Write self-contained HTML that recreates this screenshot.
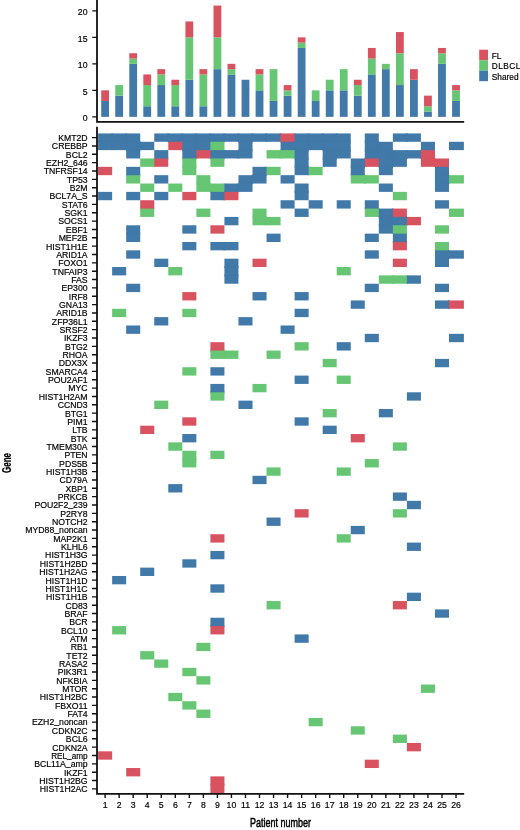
<!DOCTYPE html>
<html lang="en"><head><meta charset="utf-8"><title>Mutation landscape by patient</title>
<style>html,body{margin:0;padding:0;background:#fff}body{width:520px;height:830px;overflow:hidden}svg{display:block}text{font-family:"Liberation Sans",sans-serif;fill:#000;stroke:#000;stroke-width:0.18px}</style></head><body>
<svg width="520" height="830" viewBox="0 0 520 830">
<rect width="520" height="830" fill="#fff"/>
<g id="bars">
<rect x="101.22" y="100.95" width="7.80" height="15.90" fill="#4179a9"/>
<rect x="101.22" y="90.35" width="7.80" height="10.60" fill="#d95260"/>
<rect x="115.25" y="95.65" width="7.80" height="21.20" fill="#4179a9"/>
<rect x="115.25" y="85.05" width="7.80" height="10.60" fill="#67c673"/>
<rect x="129.29" y="63.85" width="7.80" height="53.00" fill="#4179a9"/>
<rect x="129.29" y="58.55" width="7.80" height="5.30" fill="#67c673"/>
<rect x="129.29" y="53.25" width="7.80" height="5.30" fill="#d95260"/>
<rect x="143.33" y="106.25" width="7.80" height="10.60" fill="#4179a9"/>
<rect x="143.33" y="85.05" width="7.80" height="21.20" fill="#67c673"/>
<rect x="143.33" y="74.45" width="7.80" height="10.60" fill="#d95260"/>
<rect x="157.36" y="85.05" width="7.80" height="31.80" fill="#4179a9"/>
<rect x="157.36" y="74.45" width="7.80" height="10.60" fill="#67c673"/>
<rect x="157.36" y="69.15" width="7.80" height="5.30" fill="#d95260"/>
<rect x="171.40" y="106.25" width="7.80" height="10.60" fill="#4179a9"/>
<rect x="171.40" y="85.05" width="7.80" height="21.20" fill="#67c673"/>
<rect x="171.40" y="79.75" width="7.80" height="5.30" fill="#d95260"/>
<rect x="185.43" y="79.75" width="7.80" height="37.10" fill="#4179a9"/>
<rect x="185.43" y="37.35" width="7.80" height="42.40" fill="#67c673"/>
<rect x="185.43" y="21.45" width="7.80" height="15.90" fill="#d95260"/>
<rect x="199.47" y="106.25" width="7.80" height="10.60" fill="#4179a9"/>
<rect x="199.47" y="74.45" width="7.80" height="31.80" fill="#67c673"/>
<rect x="199.47" y="69.15" width="7.80" height="5.30" fill="#d95260"/>
<rect x="213.51" y="69.15" width="7.80" height="47.70" fill="#4179a9"/>
<rect x="213.51" y="37.35" width="7.80" height="31.80" fill="#67c673"/>
<rect x="213.51" y="5.55" width="7.80" height="31.80" fill="#d95260"/>
<rect x="227.54" y="74.45" width="7.80" height="42.40" fill="#4179a9"/>
<rect x="227.54" y="69.15" width="7.80" height="5.30" fill="#67c673"/>
<rect x="227.54" y="63.85" width="7.80" height="5.30" fill="#d95260"/>
<rect x="241.58" y="79.75" width="7.80" height="37.10" fill="#4179a9"/>
<rect x="255.61" y="90.35" width="7.80" height="26.50" fill="#4179a9"/>
<rect x="255.61" y="74.45" width="7.80" height="15.90" fill="#67c673"/>
<rect x="255.61" y="69.15" width="7.80" height="5.30" fill="#d95260"/>
<rect x="269.65" y="100.95" width="7.80" height="15.90" fill="#4179a9"/>
<rect x="269.65" y="69.15" width="7.80" height="31.80" fill="#67c673"/>
<rect x="283.69" y="95.65" width="7.80" height="21.20" fill="#4179a9"/>
<rect x="283.69" y="90.35" width="7.80" height="5.30" fill="#67c673"/>
<rect x="283.69" y="85.05" width="7.80" height="5.30" fill="#d95260"/>
<rect x="297.72" y="47.95" width="7.80" height="68.90" fill="#4179a9"/>
<rect x="297.72" y="42.65" width="7.80" height="5.30" fill="#67c673"/>
<rect x="297.72" y="37.35" width="7.80" height="5.30" fill="#d95260"/>
<rect x="311.76" y="100.95" width="7.80" height="15.90" fill="#4179a9"/>
<rect x="311.76" y="90.35" width="7.80" height="10.60" fill="#67c673"/>
<rect x="325.79" y="90.35" width="7.80" height="26.50" fill="#4179a9"/>
<rect x="325.79" y="79.75" width="7.80" height="10.60" fill="#67c673"/>
<rect x="339.83" y="90.35" width="7.80" height="26.50" fill="#4179a9"/>
<rect x="339.83" y="69.15" width="7.80" height="21.20" fill="#67c673"/>
<rect x="353.87" y="95.65" width="7.80" height="21.20" fill="#4179a9"/>
<rect x="353.87" y="85.05" width="7.80" height="10.60" fill="#67c673"/>
<rect x="353.87" y="79.75" width="7.80" height="5.30" fill="#d95260"/>
<rect x="367.90" y="74.45" width="7.80" height="42.40" fill="#4179a9"/>
<rect x="367.90" y="58.55" width="7.80" height="15.90" fill="#67c673"/>
<rect x="367.90" y="47.95" width="7.80" height="10.60" fill="#d95260"/>
<rect x="381.94" y="69.15" width="7.80" height="47.70" fill="#4179a9"/>
<rect x="381.94" y="63.85" width="7.80" height="5.30" fill="#67c673"/>
<rect x="395.97" y="85.05" width="7.80" height="31.80" fill="#4179a9"/>
<rect x="395.97" y="53.25" width="7.80" height="31.80" fill="#67c673"/>
<rect x="395.97" y="32.05" width="7.80" height="21.20" fill="#d95260"/>
<rect x="410.01" y="79.75" width="7.80" height="37.10" fill="#4179a9"/>
<rect x="410.01" y="69.15" width="7.80" height="10.60" fill="#d95260"/>
<rect x="424.05" y="111.55" width="7.80" height="5.30" fill="#4179a9"/>
<rect x="424.05" y="106.25" width="7.80" height="5.30" fill="#67c673"/>
<rect x="424.05" y="95.65" width="7.80" height="10.60" fill="#d95260"/>
<rect x="438.08" y="63.85" width="7.80" height="53.00" fill="#4179a9"/>
<rect x="438.08" y="53.25" width="7.80" height="10.60" fill="#67c673"/>
<rect x="438.08" y="47.95" width="7.80" height="5.30" fill="#d95260"/>
<rect x="452.12" y="100.95" width="7.80" height="15.90" fill="#4179a9"/>
<rect x="452.12" y="90.35" width="7.80" height="10.60" fill="#67c673"/>
<rect x="452.12" y="85.05" width="7.80" height="5.30" fill="#d95260"/>
</g>
<g id="cells">
<rect x="98.10" y="133.43" width="14.04" height="8.35" fill="#4179a9"/>
<rect x="111.14" y="133.43" width="2" height="8.35" fill="#4179a9"/>
<rect x="98.10" y="140.78" width="14.04" height="2" fill="#4179a9"/>
<rect x="112.14" y="133.43" width="14.04" height="8.35" fill="#4179a9"/>
<rect x="125.17" y="133.43" width="2" height="8.35" fill="#4179a9"/>
<rect x="112.14" y="140.78" width="14.04" height="2" fill="#4179a9"/>
<rect x="126.17" y="133.43" width="14.04" height="8.35" fill="#4179a9"/>
<rect x="126.17" y="140.78" width="14.04" height="2" fill="#4179a9"/>
<rect x="154.24" y="133.43" width="14.04" height="8.35" fill="#4179a9"/>
<rect x="167.28" y="133.43" width="2" height="8.35" fill="#4179a9"/>
<rect x="168.28" y="133.43" width="14.04" height="8.35" fill="#4179a9"/>
<rect x="181.32" y="133.43" width="2" height="8.35" fill="#4179a9"/>
<rect x="168.28" y="140.78" width="14.04" height="2" fill="#4179a9"/>
<rect x="182.32" y="133.43" width="14.04" height="8.35" fill="#4179a9"/>
<rect x="195.35" y="133.43" width="2" height="8.35" fill="#4179a9"/>
<rect x="182.32" y="140.78" width="14.04" height="2" fill="#4179a9"/>
<rect x="196.35" y="133.43" width="14.04" height="8.35" fill="#4179a9"/>
<rect x="209.39" y="133.43" width="2" height="8.35" fill="#4179a9"/>
<rect x="196.35" y="140.78" width="14.04" height="2" fill="#4179a9"/>
<rect x="210.39" y="133.43" width="14.04" height="8.35" fill="#4179a9"/>
<rect x="223.42" y="133.43" width="2" height="8.35" fill="#4179a9"/>
<rect x="210.39" y="140.78" width="14.04" height="2" fill="#4179a9"/>
<rect x="224.42" y="133.43" width="14.04" height="8.35" fill="#4179a9"/>
<rect x="237.46" y="133.43" width="2" height="8.35" fill="#4179a9"/>
<rect x="238.46" y="133.43" width="14.04" height="8.35" fill="#4179a9"/>
<rect x="251.50" y="133.43" width="2" height="8.35" fill="#4179a9"/>
<rect x="238.46" y="140.78" width="14.04" height="2" fill="#4179a9"/>
<rect x="252.50" y="133.43" width="14.04" height="8.35" fill="#4179a9"/>
<rect x="265.53" y="133.43" width="2" height="8.35" fill="#4179a9"/>
<rect x="266.53" y="133.43" width="14.04" height="8.35" fill="#4179a9"/>
<rect x="279.57" y="133.43" width="2" height="8.35" fill="#4179a9"/>
<rect x="280.57" y="133.43" width="14.04" height="8.35" fill="#d95260"/>
<rect x="293.60" y="133.43" width="2" height="8.35" fill="#d95260"/>
<rect x="280.57" y="140.78" width="14.04" height="2" fill="#d95260"/>
<rect x="294.60" y="133.43" width="14.04" height="8.35" fill="#4179a9"/>
<rect x="307.64" y="133.43" width="2" height="8.35" fill="#4179a9"/>
<rect x="294.60" y="140.78" width="14.04" height="2" fill="#4179a9"/>
<rect x="308.64" y="133.43" width="14.04" height="8.35" fill="#4179a9"/>
<rect x="321.68" y="133.43" width="2" height="8.35" fill="#4179a9"/>
<rect x="308.64" y="140.78" width="14.04" height="2" fill="#4179a9"/>
<rect x="322.68" y="133.43" width="14.04" height="8.35" fill="#4179a9"/>
<rect x="335.71" y="133.43" width="2" height="8.35" fill="#4179a9"/>
<rect x="322.68" y="140.78" width="14.04" height="2" fill="#4179a9"/>
<rect x="336.71" y="133.43" width="14.04" height="8.35" fill="#4179a9"/>
<rect x="336.71" y="140.78" width="14.04" height="2" fill="#4179a9"/>
<rect x="364.78" y="133.43" width="14.04" height="8.35" fill="#4179a9"/>
<rect x="364.78" y="140.78" width="14.04" height="2" fill="#4179a9"/>
<rect x="392.86" y="133.43" width="14.04" height="8.35" fill="#4179a9"/>
<rect x="405.89" y="133.43" width="2" height="8.35" fill="#4179a9"/>
<rect x="406.89" y="133.43" width="14.04" height="8.35" fill="#4179a9"/>
<rect x="98.10" y="141.78" width="14.04" height="8.35" fill="#4179a9"/>
<rect x="111.14" y="141.78" width="2" height="8.35" fill="#4179a9"/>
<rect x="112.14" y="141.78" width="14.04" height="8.35" fill="#4179a9"/>
<rect x="125.17" y="141.78" width="2" height="8.35" fill="#4179a9"/>
<rect x="126.17" y="141.78" width="14.04" height="8.35" fill="#4179a9"/>
<rect x="139.21" y="141.78" width="2" height="8.35" fill="#4179a9"/>
<rect x="126.17" y="149.13" width="14.04" height="2" fill="#4179a9"/>
<rect x="140.21" y="141.78" width="14.04" height="8.35" fill="#4179a9"/>
<rect x="168.28" y="141.78" width="14.04" height="8.35" fill="#d95260"/>
<rect x="181.32" y="141.78" width="2" height="8.35" fill="#d95260"/>
<rect x="182.32" y="141.78" width="14.04" height="8.35" fill="#4179a9"/>
<rect x="195.35" y="141.78" width="2" height="8.35" fill="#4179a9"/>
<rect x="182.32" y="149.13" width="14.04" height="2" fill="#4179a9"/>
<rect x="196.35" y="141.78" width="14.04" height="8.35" fill="#4179a9"/>
<rect x="209.39" y="141.78" width="2" height="8.35" fill="#4179a9"/>
<rect x="196.35" y="149.13" width="14.04" height="2" fill="#4179a9"/>
<rect x="210.39" y="141.78" width="14.04" height="8.35" fill="#67c673"/>
<rect x="210.39" y="149.13" width="14.04" height="2" fill="#67c673"/>
<rect x="238.46" y="141.78" width="14.04" height="8.35" fill="#4179a9"/>
<rect x="238.46" y="149.13" width="14.04" height="2" fill="#4179a9"/>
<rect x="280.57" y="141.78" width="14.04" height="8.35" fill="#4179a9"/>
<rect x="293.60" y="141.78" width="2" height="8.35" fill="#4179a9"/>
<rect x="280.57" y="149.13" width="14.04" height="2" fill="#4179a9"/>
<rect x="294.60" y="141.78" width="14.04" height="8.35" fill="#4179a9"/>
<rect x="307.64" y="141.78" width="2" height="8.35" fill="#4179a9"/>
<rect x="294.60" y="149.13" width="14.04" height="2" fill="#4179a9"/>
<rect x="308.64" y="141.78" width="14.04" height="8.35" fill="#4179a9"/>
<rect x="321.68" y="141.78" width="2" height="8.35" fill="#4179a9"/>
<rect x="322.68" y="141.78" width="14.04" height="8.35" fill="#4179a9"/>
<rect x="335.71" y="141.78" width="2" height="8.35" fill="#4179a9"/>
<rect x="322.68" y="149.13" width="14.04" height="2" fill="#4179a9"/>
<rect x="336.71" y="141.78" width="14.04" height="8.35" fill="#4179a9"/>
<rect x="336.71" y="149.13" width="14.04" height="2" fill="#4179a9"/>
<rect x="364.78" y="141.78" width="14.04" height="8.35" fill="#4179a9"/>
<rect x="377.82" y="141.78" width="2" height="8.35" fill="#4179a9"/>
<rect x="364.78" y="149.13" width="14.04" height="2" fill="#4179a9"/>
<rect x="378.82" y="141.78" width="14.04" height="8.35" fill="#4179a9"/>
<rect x="378.82" y="149.13" width="14.04" height="2" fill="#4179a9"/>
<rect x="420.93" y="141.78" width="14.04" height="8.35" fill="#4179a9"/>
<rect x="420.93" y="149.13" width="14.04" height="2" fill="#4179a9"/>
<rect x="449.00" y="141.78" width="14.90" height="8.35" fill="#4179a9"/>
<rect x="126.17" y="150.13" width="14.04" height="8.35" fill="#4179a9"/>
<rect x="154.24" y="150.13" width="14.04" height="8.35" fill="#4179a9"/>
<rect x="154.24" y="157.48" width="14.04" height="2" fill="#4179a9"/>
<rect x="182.32" y="150.13" width="14.04" height="8.35" fill="#4179a9"/>
<rect x="195.35" y="150.13" width="2" height="8.35" fill="#4179a9"/>
<rect x="182.32" y="157.48" width="14.04" height="2" fill="#4179a9"/>
<rect x="196.35" y="150.13" width="14.04" height="8.35" fill="#d95260"/>
<rect x="209.39" y="150.13" width="2" height="8.35" fill="#d95260"/>
<rect x="210.39" y="150.13" width="14.04" height="8.35" fill="#4179a9"/>
<rect x="223.42" y="150.13" width="2" height="8.35" fill="#4179a9"/>
<rect x="210.39" y="157.48" width="14.04" height="2" fill="#4179a9"/>
<rect x="224.42" y="150.13" width="14.04" height="8.35" fill="#4179a9"/>
<rect x="237.46" y="150.13" width="2" height="8.35" fill="#4179a9"/>
<rect x="238.46" y="150.13" width="14.04" height="8.35" fill="#4179a9"/>
<rect x="266.53" y="150.13" width="14.04" height="8.35" fill="#67c673"/>
<rect x="279.57" y="150.13" width="2" height="8.35" fill="#67c673"/>
<rect x="280.57" y="150.13" width="14.04" height="8.35" fill="#67c673"/>
<rect x="293.60" y="150.13" width="2" height="8.35" fill="#67c673"/>
<rect x="294.60" y="150.13" width="14.04" height="8.35" fill="#4179a9"/>
<rect x="294.60" y="157.48" width="14.04" height="2" fill="#4179a9"/>
<rect x="322.68" y="150.13" width="14.04" height="8.35" fill="#4179a9"/>
<rect x="335.71" y="150.13" width="2" height="8.35" fill="#4179a9"/>
<rect x="322.68" y="157.48" width="14.04" height="2" fill="#4179a9"/>
<rect x="336.71" y="150.13" width="14.04" height="8.35" fill="#4179a9"/>
<rect x="364.78" y="150.13" width="14.04" height="8.35" fill="#4179a9"/>
<rect x="377.82" y="150.13" width="2" height="8.35" fill="#4179a9"/>
<rect x="364.78" y="157.48" width="14.04" height="2" fill="#4179a9"/>
<rect x="378.82" y="150.13" width="14.04" height="8.35" fill="#4179a9"/>
<rect x="391.86" y="150.13" width="2" height="8.35" fill="#4179a9"/>
<rect x="378.82" y="157.48" width="14.04" height="2" fill="#4179a9"/>
<rect x="392.86" y="150.13" width="14.04" height="8.35" fill="#4179a9"/>
<rect x="405.89" y="150.13" width="2" height="8.35" fill="#4179a9"/>
<rect x="392.86" y="157.48" width="14.04" height="2" fill="#4179a9"/>
<rect x="406.89" y="150.13" width="14.04" height="8.35" fill="#4179a9"/>
<rect x="419.93" y="150.13" width="2" height="8.35" fill="#4179a9"/>
<rect x="420.93" y="150.13" width="14.04" height="8.35" fill="#d95260"/>
<rect x="420.93" y="157.48" width="14.04" height="2" fill="#d95260"/>
<rect x="140.21" y="158.48" width="14.04" height="8.35" fill="#67c673"/>
<rect x="153.24" y="158.48" width="2" height="8.35" fill="#67c673"/>
<rect x="154.24" y="158.48" width="14.04" height="8.35" fill="#d95260"/>
<rect x="182.32" y="158.48" width="14.04" height="8.35" fill="#67c673"/>
<rect x="182.32" y="165.83" width="14.04" height="2" fill="#67c673"/>
<rect x="210.39" y="158.48" width="14.04" height="8.35" fill="#67c673"/>
<rect x="294.60" y="158.48" width="14.04" height="8.35" fill="#4179a9"/>
<rect x="294.60" y="165.83" width="14.04" height="2" fill="#4179a9"/>
<rect x="322.68" y="158.48" width="14.04" height="8.35" fill="#4179a9"/>
<rect x="350.75" y="158.48" width="14.04" height="8.35" fill="#4179a9"/>
<rect x="363.78" y="158.48" width="2" height="8.35" fill="#4179a9"/>
<rect x="350.75" y="165.83" width="14.04" height="2" fill="#4179a9"/>
<rect x="364.78" y="158.48" width="14.04" height="8.35" fill="#d95260"/>
<rect x="377.82" y="158.48" width="2" height="8.35" fill="#d95260"/>
<rect x="378.82" y="158.48" width="14.04" height="8.35" fill="#4179a9"/>
<rect x="391.86" y="158.48" width="2" height="8.35" fill="#4179a9"/>
<rect x="378.82" y="165.83" width="14.04" height="2" fill="#4179a9"/>
<rect x="392.86" y="158.48" width="14.04" height="8.35" fill="#4179a9"/>
<rect x="420.93" y="158.48" width="14.04" height="8.35" fill="#d95260"/>
<rect x="433.96" y="158.48" width="2" height="8.35" fill="#d95260"/>
<rect x="434.96" y="158.48" width="14.04" height="8.35" fill="#d95260"/>
<rect x="434.96" y="165.83" width="14.04" height="2" fill="#d95260"/>
<rect x="98.10" y="166.83" width="14.04" height="8.35" fill="#d95260"/>
<rect x="126.17" y="166.83" width="14.04" height="8.35" fill="#4179a9"/>
<rect x="126.17" y="174.18" width="14.04" height="2" fill="#4179a9"/>
<rect x="182.32" y="166.83" width="14.04" height="8.35" fill="#67c673"/>
<rect x="252.50" y="166.83" width="14.04" height="8.35" fill="#4179a9"/>
<rect x="265.53" y="166.83" width="2" height="8.35" fill="#4179a9"/>
<rect x="252.50" y="174.18" width="14.04" height="2" fill="#4179a9"/>
<rect x="266.53" y="166.83" width="14.04" height="8.35" fill="#67c673"/>
<rect x="294.60" y="166.83" width="14.04" height="8.35" fill="#4179a9"/>
<rect x="307.64" y="166.83" width="2" height="8.35" fill="#4179a9"/>
<rect x="308.64" y="166.83" width="14.04" height="8.35" fill="#67c673"/>
<rect x="350.75" y="166.83" width="14.04" height="8.35" fill="#4179a9"/>
<rect x="350.75" y="174.18" width="14.04" height="2" fill="#4179a9"/>
<rect x="378.82" y="166.83" width="14.04" height="8.35" fill="#4179a9"/>
<rect x="434.96" y="166.83" width="14.04" height="8.35" fill="#4179a9"/>
<rect x="434.96" y="174.18" width="14.04" height="2" fill="#4179a9"/>
<rect x="126.17" y="175.18" width="14.04" height="8.35" fill="#67c673"/>
<rect x="154.24" y="175.18" width="14.04" height="8.35" fill="#4179a9"/>
<rect x="196.35" y="175.18" width="14.04" height="8.35" fill="#67c673"/>
<rect x="196.35" y="182.53" width="14.04" height="2" fill="#67c673"/>
<rect x="238.46" y="175.18" width="14.04" height="8.35" fill="#4179a9"/>
<rect x="251.50" y="175.18" width="2" height="8.35" fill="#4179a9"/>
<rect x="238.46" y="182.53" width="14.04" height="2" fill="#4179a9"/>
<rect x="252.50" y="175.18" width="14.04" height="8.35" fill="#4179a9"/>
<rect x="280.57" y="175.18" width="14.04" height="8.35" fill="#4179a9"/>
<rect x="350.75" y="175.18" width="14.04" height="8.35" fill="#67c673"/>
<rect x="363.78" y="175.18" width="2" height="8.35" fill="#67c673"/>
<rect x="364.78" y="175.18" width="14.04" height="8.35" fill="#67c673"/>
<rect x="434.96" y="175.18" width="14.04" height="8.35" fill="#4179a9"/>
<rect x="448.00" y="175.18" width="2" height="8.35" fill="#4179a9"/>
<rect x="434.96" y="182.53" width="14.04" height="2" fill="#4179a9"/>
<rect x="449.00" y="175.18" width="14.90" height="8.35" fill="#67c673"/>
<rect x="140.21" y="183.53" width="14.04" height="8.35" fill="#67c673"/>
<rect x="168.28" y="183.53" width="14.04" height="8.35" fill="#67c673"/>
<rect x="196.35" y="183.53" width="14.04" height="8.35" fill="#67c673"/>
<rect x="209.39" y="183.53" width="2" height="8.35" fill="#67c673"/>
<rect x="210.39" y="183.53" width="14.04" height="8.35" fill="#67c673"/>
<rect x="223.42" y="183.53" width="2" height="8.35" fill="#67c673"/>
<rect x="210.39" y="190.88" width="14.04" height="2" fill="#67c673"/>
<rect x="224.42" y="183.53" width="14.04" height="8.35" fill="#4179a9"/>
<rect x="237.46" y="183.53" width="2" height="8.35" fill="#4179a9"/>
<rect x="224.42" y="190.88" width="14.04" height="2" fill="#4179a9"/>
<rect x="238.46" y="183.53" width="14.04" height="8.35" fill="#4179a9"/>
<rect x="294.60" y="183.53" width="14.04" height="8.35" fill="#4179a9"/>
<rect x="294.60" y="190.88" width="14.04" height="2" fill="#4179a9"/>
<rect x="378.82" y="183.53" width="14.04" height="8.35" fill="#4179a9"/>
<rect x="434.96" y="183.53" width="14.04" height="8.35" fill="#4179a9"/>
<rect x="98.10" y="191.88" width="14.04" height="8.35" fill="#4179a9"/>
<rect x="126.17" y="191.88" width="14.04" height="8.35" fill="#4179a9"/>
<rect x="154.24" y="191.88" width="14.04" height="8.35" fill="#4179a9"/>
<rect x="182.32" y="191.88" width="14.04" height="8.35" fill="#d95260"/>
<rect x="210.39" y="191.88" width="14.04" height="8.35" fill="#4179a9"/>
<rect x="223.42" y="191.88" width="2" height="8.35" fill="#4179a9"/>
<rect x="224.42" y="191.88" width="14.04" height="8.35" fill="#d95260"/>
<rect x="294.60" y="191.88" width="14.04" height="8.35" fill="#4179a9"/>
<rect x="392.86" y="191.88" width="14.04" height="8.35" fill="#67c673"/>
<rect x="140.21" y="200.23" width="14.04" height="8.35" fill="#d95260"/>
<rect x="140.21" y="207.58" width="14.04" height="2" fill="#d95260"/>
<rect x="280.57" y="200.23" width="14.04" height="8.35" fill="#4179a9"/>
<rect x="308.64" y="200.23" width="14.04" height="8.35" fill="#4179a9"/>
<rect x="336.71" y="200.23" width="14.04" height="8.35" fill="#4179a9"/>
<rect x="364.78" y="200.23" width="14.04" height="8.35" fill="#4179a9"/>
<rect x="364.78" y="207.58" width="14.04" height="2" fill="#4179a9"/>
<rect x="434.96" y="200.23" width="14.04" height="8.35" fill="#4179a9"/>
<rect x="140.21" y="208.58" width="14.04" height="8.35" fill="#67c673"/>
<rect x="196.35" y="208.58" width="14.04" height="8.35" fill="#67c673"/>
<rect x="252.50" y="208.58" width="14.04" height="8.35" fill="#67c673"/>
<rect x="252.50" y="215.93" width="14.04" height="2" fill="#67c673"/>
<rect x="294.60" y="208.58" width="14.04" height="8.35" fill="#4179a9"/>
<rect x="364.78" y="208.58" width="14.04" height="8.35" fill="#67c673"/>
<rect x="377.82" y="208.58" width="2" height="8.35" fill="#67c673"/>
<rect x="378.82" y="208.58" width="14.04" height="8.35" fill="#4179a9"/>
<rect x="391.86" y="208.58" width="2" height="8.35" fill="#4179a9"/>
<rect x="378.82" y="215.93" width="14.04" height="2" fill="#4179a9"/>
<rect x="392.86" y="208.58" width="14.04" height="8.35" fill="#d95260"/>
<rect x="392.86" y="215.93" width="14.04" height="2" fill="#d95260"/>
<rect x="449.00" y="208.58" width="14.90" height="8.35" fill="#67c673"/>
<rect x="224.42" y="216.93" width="14.04" height="8.35" fill="#4179a9"/>
<rect x="252.50" y="216.93" width="14.04" height="8.35" fill="#67c673"/>
<rect x="265.53" y="216.93" width="2" height="8.35" fill="#67c673"/>
<rect x="266.53" y="216.93" width="14.04" height="8.35" fill="#67c673"/>
<rect x="378.82" y="216.93" width="14.04" height="8.35" fill="#4179a9"/>
<rect x="391.86" y="216.93" width="2" height="8.35" fill="#4179a9"/>
<rect x="378.82" y="224.28" width="14.04" height="2" fill="#4179a9"/>
<rect x="392.86" y="216.93" width="14.04" height="8.35" fill="#4179a9"/>
<rect x="405.89" y="216.93" width="2" height="8.35" fill="#4179a9"/>
<rect x="392.86" y="224.28" width="14.04" height="2" fill="#4179a9"/>
<rect x="406.89" y="216.93" width="14.04" height="8.35" fill="#d95260"/>
<rect x="126.17" y="225.28" width="14.04" height="8.35" fill="#4179a9"/>
<rect x="126.17" y="232.63" width="14.04" height="2" fill="#4179a9"/>
<rect x="182.32" y="225.28" width="14.04" height="8.35" fill="#4179a9"/>
<rect x="210.39" y="225.28" width="14.04" height="8.35" fill="#d95260"/>
<rect x="378.82" y="225.28" width="14.04" height="8.35" fill="#4179a9"/>
<rect x="391.86" y="225.28" width="2" height="8.35" fill="#4179a9"/>
<rect x="392.86" y="225.28" width="14.04" height="8.35" fill="#67c673"/>
<rect x="392.86" y="232.63" width="14.04" height="2" fill="#67c673"/>
<rect x="434.96" y="225.28" width="14.04" height="8.35" fill="#67c673"/>
<rect x="126.17" y="233.63" width="14.04" height="8.35" fill="#4179a9"/>
<rect x="266.53" y="233.63" width="14.04" height="8.35" fill="#4179a9"/>
<rect x="364.78" y="233.63" width="14.04" height="8.35" fill="#4179a9"/>
<rect x="392.86" y="233.63" width="14.04" height="8.35" fill="#4179a9"/>
<rect x="392.86" y="240.98" width="14.04" height="2" fill="#4179a9"/>
<rect x="182.32" y="241.98" width="14.04" height="8.35" fill="#4179a9"/>
<rect x="210.39" y="241.98" width="14.04" height="8.35" fill="#4179a9"/>
<rect x="223.42" y="241.98" width="2" height="8.35" fill="#4179a9"/>
<rect x="224.42" y="241.98" width="14.04" height="8.35" fill="#4179a9"/>
<rect x="392.86" y="241.98" width="14.04" height="8.35" fill="#d95260"/>
<rect x="434.96" y="241.98" width="14.04" height="8.35" fill="#67c673"/>
<rect x="434.96" y="249.33" width="14.04" height="2" fill="#67c673"/>
<rect x="126.17" y="250.33" width="14.04" height="8.35" fill="#4179a9"/>
<rect x="364.78" y="250.33" width="14.04" height="8.35" fill="#4179a9"/>
<rect x="434.96" y="250.33" width="14.04" height="8.35" fill="#4179a9"/>
<rect x="448.00" y="250.33" width="2" height="8.35" fill="#4179a9"/>
<rect x="434.96" y="257.68" width="14.04" height="2" fill="#4179a9"/>
<rect x="449.00" y="250.33" width="14.90" height="8.35" fill="#4179a9"/>
<rect x="154.24" y="258.68" width="14.04" height="8.35" fill="#4179a9"/>
<rect x="224.42" y="258.68" width="14.04" height="8.35" fill="#4179a9"/>
<rect x="224.42" y="266.03" width="14.04" height="2" fill="#4179a9"/>
<rect x="252.50" y="258.68" width="14.04" height="8.35" fill="#d95260"/>
<rect x="392.86" y="258.68" width="14.04" height="8.35" fill="#d95260"/>
<rect x="434.96" y="258.68" width="14.04" height="8.35" fill="#4179a9"/>
<rect x="112.14" y="267.03" width="14.04" height="8.35" fill="#4179a9"/>
<rect x="168.28" y="267.03" width="14.04" height="8.35" fill="#67c673"/>
<rect x="224.42" y="267.03" width="14.04" height="8.35" fill="#4179a9"/>
<rect x="224.42" y="274.38" width="14.04" height="2" fill="#4179a9"/>
<rect x="336.71" y="267.03" width="14.04" height="8.35" fill="#67c673"/>
<rect x="224.42" y="275.38" width="14.04" height="8.35" fill="#4179a9"/>
<rect x="378.82" y="275.38" width="14.04" height="8.35" fill="#67c673"/>
<rect x="391.86" y="275.38" width="2" height="8.35" fill="#67c673"/>
<rect x="392.86" y="275.38" width="14.04" height="8.35" fill="#67c673"/>
<rect x="405.89" y="275.38" width="2" height="8.35" fill="#67c673"/>
<rect x="406.89" y="275.38" width="14.04" height="8.35" fill="#4179a9"/>
<rect x="126.17" y="283.73" width="14.04" height="8.35" fill="#4179a9"/>
<rect x="364.78" y="283.73" width="14.04" height="8.35" fill="#4179a9"/>
<rect x="434.96" y="283.73" width="14.04" height="8.35" fill="#4179a9"/>
<rect x="182.32" y="292.08" width="14.04" height="8.35" fill="#d95260"/>
<rect x="252.50" y="292.08" width="14.04" height="8.35" fill="#4179a9"/>
<rect x="294.60" y="292.08" width="14.04" height="8.35" fill="#4179a9"/>
<rect x="350.75" y="300.43" width="14.04" height="8.35" fill="#4179a9"/>
<rect x="434.96" y="300.43" width="14.04" height="8.35" fill="#4179a9"/>
<rect x="448.00" y="300.43" width="2" height="8.35" fill="#4179a9"/>
<rect x="449.00" y="300.43" width="14.90" height="8.35" fill="#d95260"/>
<rect x="112.14" y="308.78" width="14.04" height="8.35" fill="#67c673"/>
<rect x="182.32" y="308.78" width="14.04" height="8.35" fill="#67c673"/>
<rect x="294.60" y="308.78" width="14.04" height="8.35" fill="#4179a9"/>
<rect x="154.24" y="317.13" width="14.04" height="8.35" fill="#4179a9"/>
<rect x="238.46" y="317.13" width="14.04" height="8.35" fill="#4179a9"/>
<rect x="126.17" y="325.48" width="14.04" height="8.35" fill="#4179a9"/>
<rect x="280.57" y="325.48" width="14.04" height="8.35" fill="#4179a9"/>
<rect x="364.78" y="333.83" width="14.04" height="8.35" fill="#4179a9"/>
<rect x="449.00" y="333.83" width="14.90" height="8.35" fill="#4179a9"/>
<rect x="210.39" y="342.18" width="14.04" height="8.35" fill="#d95260"/>
<rect x="210.39" y="349.53" width="14.04" height="2" fill="#d95260"/>
<rect x="294.60" y="342.18" width="14.04" height="8.35" fill="#67c673"/>
<rect x="336.71" y="342.18" width="14.04" height="8.35" fill="#4179a9"/>
<rect x="210.39" y="350.53" width="14.04" height="8.35" fill="#67c673"/>
<rect x="223.42" y="350.53" width="2" height="8.35" fill="#67c673"/>
<rect x="224.42" y="350.53" width="14.04" height="8.35" fill="#67c673"/>
<rect x="266.53" y="350.53" width="14.04" height="8.35" fill="#67c673"/>
<rect x="322.68" y="358.88" width="14.04" height="8.35" fill="#67c673"/>
<rect x="434.96" y="358.88" width="14.04" height="8.35" fill="#4179a9"/>
<rect x="182.32" y="367.23" width="14.04" height="8.35" fill="#67c673"/>
<rect x="210.39" y="367.23" width="14.04" height="8.35" fill="#4179a9"/>
<rect x="294.60" y="375.58" width="14.04" height="8.35" fill="#4179a9"/>
<rect x="336.71" y="375.58" width="14.04" height="8.35" fill="#67c673"/>
<rect x="210.39" y="383.93" width="14.04" height="8.35" fill="#4179a9"/>
<rect x="210.39" y="391.28" width="14.04" height="2" fill="#4179a9"/>
<rect x="252.50" y="383.93" width="14.04" height="8.35" fill="#67c673"/>
<rect x="210.39" y="392.28" width="14.04" height="8.35" fill="#67c673"/>
<rect x="406.89" y="392.28" width="14.04" height="8.35" fill="#4179a9"/>
<rect x="154.24" y="400.63" width="14.04" height="8.35" fill="#67c673"/>
<rect x="238.46" y="400.63" width="14.04" height="8.35" fill="#4179a9"/>
<rect x="322.68" y="408.98" width="14.04" height="8.35" fill="#67c673"/>
<rect x="378.82" y="408.98" width="14.04" height="8.35" fill="#4179a9"/>
<rect x="182.32" y="417.33" width="14.04" height="8.35" fill="#d95260"/>
<rect x="294.60" y="417.33" width="14.04" height="8.35" fill="#4179a9"/>
<rect x="140.21" y="425.68" width="14.04" height="8.35" fill="#d95260"/>
<rect x="322.68" y="425.68" width="14.04" height="8.35" fill="#4179a9"/>
<rect x="182.32" y="434.03" width="14.04" height="8.35" fill="#4179a9"/>
<rect x="350.75" y="434.03" width="14.04" height="8.35" fill="#d95260"/>
<rect x="168.28" y="442.38" width="14.04" height="8.35" fill="#67c673"/>
<rect x="392.86" y="442.38" width="14.04" height="8.35" fill="#67c673"/>
<rect x="182.32" y="450.73" width="14.04" height="8.35" fill="#67c673"/>
<rect x="182.32" y="458.08" width="14.04" height="2" fill="#67c673"/>
<rect x="210.39" y="450.73" width="14.04" height="8.35" fill="#67c673"/>
<rect x="182.32" y="459.08" width="14.04" height="8.35" fill="#67c673"/>
<rect x="364.78" y="459.08" width="14.04" height="8.35" fill="#67c673"/>
<rect x="266.53" y="467.43" width="14.04" height="8.35" fill="#67c673"/>
<rect x="336.71" y="467.43" width="14.04" height="8.35" fill="#67c673"/>
<rect x="252.50" y="475.78" width="14.04" height="8.35" fill="#4179a9"/>
<rect x="168.28" y="484.13" width="14.04" height="8.35" fill="#4179a9"/>
<rect x="392.86" y="492.48" width="14.04" height="8.35" fill="#4179a9"/>
<rect x="406.89" y="500.83" width="14.04" height="8.35" fill="#4179a9"/>
<rect x="294.60" y="509.18" width="14.04" height="8.35" fill="#d95260"/>
<rect x="392.86" y="509.18" width="14.04" height="8.35" fill="#67c673"/>
<rect x="266.53" y="517.53" width="14.04" height="8.35" fill="#4179a9"/>
<rect x="350.75" y="525.88" width="14.04" height="8.35" fill="#4179a9"/>
<rect x="210.39" y="534.23" width="14.04" height="8.35" fill="#d95260"/>
<rect x="336.71" y="534.23" width="14.04" height="8.35" fill="#67c673"/>
<rect x="406.89" y="542.58" width="14.04" height="8.35" fill="#4179a9"/>
<rect x="210.39" y="550.93" width="14.04" height="8.35" fill="#4179a9"/>
<rect x="182.32" y="559.28" width="14.04" height="8.35" fill="#4179a9"/>
<rect x="140.21" y="567.63" width="14.04" height="8.35" fill="#4179a9"/>
<rect x="112.14" y="575.98" width="14.04" height="8.35" fill="#4179a9"/>
<rect x="210.39" y="584.33" width="14.04" height="8.35" fill="#4179a9"/>
<rect x="406.89" y="592.68" width="14.04" height="8.35" fill="#4179a9"/>
<rect x="266.53" y="601.03" width="14.04" height="8.35" fill="#67c673"/>
<rect x="392.86" y="601.03" width="14.04" height="8.35" fill="#d95260"/>
<rect x="434.96" y="609.38" width="14.04" height="8.35" fill="#4179a9"/>
<rect x="210.39" y="617.73" width="14.04" height="8.35" fill="#4179a9"/>
<rect x="210.39" y="625.08" width="14.04" height="2" fill="#4179a9"/>
<rect x="112.14" y="626.08" width="14.04" height="8.35" fill="#67c673"/>
<rect x="210.39" y="626.08" width="14.04" height="8.35" fill="#d95260"/>
<rect x="294.60" y="634.43" width="14.04" height="8.35" fill="#4179a9"/>
<rect x="196.35" y="642.78" width="14.04" height="8.35" fill="#67c673"/>
<rect x="140.21" y="651.13" width="14.04" height="8.35" fill="#67c673"/>
<rect x="154.24" y="659.48" width="14.04" height="8.35" fill="#67c673"/>
<rect x="182.32" y="667.83" width="14.04" height="8.35" fill="#67c673"/>
<rect x="196.35" y="676.18" width="14.04" height="8.35" fill="#67c673"/>
<rect x="420.93" y="684.53" width="14.04" height="8.35" fill="#67c673"/>
<rect x="168.28" y="692.88" width="14.04" height="8.35" fill="#67c673"/>
<rect x="182.32" y="701.23" width="14.04" height="8.35" fill="#67c673"/>
<rect x="196.35" y="709.58" width="14.04" height="8.35" fill="#67c673"/>
<rect x="308.64" y="717.93" width="14.04" height="8.35" fill="#67c673"/>
<rect x="350.75" y="726.28" width="14.04" height="8.35" fill="#67c673"/>
<rect x="392.86" y="734.63" width="14.04" height="8.35" fill="#67c673"/>
<rect x="406.89" y="742.98" width="14.04" height="8.35" fill="#d95260"/>
<rect x="98.10" y="751.33" width="14.04" height="8.35" fill="#d95260"/>
<rect x="364.78" y="759.68" width="14.04" height="8.35" fill="#d95260"/>
<rect x="126.17" y="768.03" width="14.04" height="8.35" fill="#d95260"/>
<rect x="210.39" y="776.38" width="14.04" height="8.35" fill="#d95260"/>
<rect x="210.39" y="783.73" width="14.04" height="2" fill="#d95260"/>
<rect x="210.39" y="784.73" width="14.04" height="8.35" fill="#d95260"/>
</g>
<g stroke="#111" fill="none">
<path d="M97.0 0 V121.8 H464.2" stroke-width="1.8" stroke-linejoin="miter"/>
<path d="M97.0 126.8 V793.8 H464.2" stroke-width="1.8" stroke-linejoin="miter"/>
<path d="M92.3 116.85H97.0M92.3 90.35H97.0M92.3 63.85H97.0M92.3 37.35H97.0M92.3 10.85H97.0M92 137.61H97.0M92 145.96H97.0M92 154.31H97.0M92 162.66H97.0M92 171.00H97.0M92 179.36H97.0M92 187.71H97.0M92 196.06H97.0M92 204.41H97.0M92 212.75H97.0M92 221.11H97.0M92 229.45H97.0M92 237.81H97.0M92 246.16H97.0M92 254.50H97.0M92 262.86H97.0M92 271.21H97.0M92 279.56H97.0M92 287.90H97.0M92 296.25H97.0M92 304.61H97.0M92 312.96H97.0M92 321.31H97.0M92 329.65H97.0M92 338.00H97.0M92 346.36H97.0M92 354.70H97.0M92 363.06H97.0M92 371.40H97.0M92 379.75H97.0M92 388.11H97.0M92 396.45H97.0M92 404.81H97.0M92 413.15H97.0M92 421.50H97.0M92 429.86H97.0M92 438.20H97.0M92 446.56H97.0M92 454.90H97.0M92 463.25H97.0M92 471.61H97.0M92 479.95H97.0M92 488.31H97.0M92 496.65H97.0M92 505.00H97.0M92 513.36H97.0M92 521.70H97.0M92 530.06H97.0M92 538.40H97.0M92 546.75H97.0M92 555.11H97.0M92 563.45H97.0M92 571.81H97.0M92 580.15H97.0M92 588.50H97.0M92 596.86H97.0M92 605.20H97.0M92 613.56H97.0M92 621.90H97.0M92 630.25H97.0M92 638.61H97.0M92 646.95H97.0M92 655.31H97.0M92 663.65H97.0M92 672.00H97.0M92 680.36H97.0M92 688.70H97.0M92 697.06H97.0M92 705.40H97.0M92 713.75H97.0M92 722.11H97.0M92 730.45H97.0M92 738.81H97.0M92 747.15H97.0M92 755.50H97.0M92 763.86H97.0M92 772.20H97.0M92 780.56H97.0M92 788.90H97.0M105.12 793.8V798.1M119.15 793.8V798.1M133.19 793.8V798.1M147.23 793.8V798.1M161.26 793.8V798.1M175.30 793.8V798.1M189.33 793.8V798.1M203.37 793.8V798.1M217.41 793.8V798.1M231.44 793.8V798.1M245.48 793.8V798.1M259.51 793.8V798.1M273.55 793.8V798.1M287.59 793.8V798.1M301.62 793.8V798.1M315.66 793.8V798.1M329.69 793.8V798.1M343.73 793.8V798.1M357.77 793.8V798.1M371.80 793.8V798.1M385.84 793.8V798.1M399.87 793.8V798.1M413.91 793.8V798.1M427.95 793.8V798.1M441.98 793.8V798.1M456.02 793.8V798.1" stroke-width="1.4"/>
</g>
<g font-size="8.7" text-anchor="end">
<text x="87.5" y="121.15">0</text>
<text x="87.5" y="94.65">5</text>
<text x="87.5" y="68.15">10</text>
<text x="87.5" y="41.65">15</text>
<text x="87.5" y="15.15">20</text>
<text x="87.6" y="140.96">KMT2D</text>
<text x="87.6" y="149.31">CREBBP</text>
<text x="87.6" y="157.66">BCL2</text>
<text x="87.6" y="166.00">EZH2<tspan dy="-1">_</tspan><tspan dy="1">646</tspan></text>
<text x="87.6" y="174.35">TNFRSF14</text>
<text x="87.6" y="182.71">TP53</text>
<text x="87.6" y="191.06">B2M</text>
<text x="87.6" y="199.41">BCL7A<tspan dy="-1">_</tspan><tspan dy="1">S</tspan></text>
<text x="87.6" y="207.75">STAT6</text>
<text x="87.6" y="216.10">SGK1</text>
<text x="87.6" y="224.46">SOCS1</text>
<text x="87.6" y="232.80">EBF1</text>
<text x="87.6" y="241.16">MEF2B</text>
<text x="87.6" y="249.50">HIST1H1E</text>
<text x="87.6" y="257.86">ARID1A</text>
<text x="87.6" y="266.21">FOXO1</text>
<text x="87.6" y="274.56">TNFAIP3</text>
<text x="87.6" y="282.91">FAS</text>
<text x="87.6" y="291.25">EP300</text>
<text x="87.6" y="299.61">IRF8</text>
<text x="87.6" y="307.96">GNA13</text>
<text x="87.6" y="316.31">ARID1B</text>
<text x="87.6" y="324.66">ZFP36L1</text>
<text x="87.6" y="333.00">SRSF2</text>
<text x="87.6" y="341.36">IKZF3</text>
<text x="87.6" y="349.71">BTG2</text>
<text x="87.6" y="358.06">RHOA</text>
<text x="87.6" y="366.41">DDX3X</text>
<text x="87.6" y="374.75">SMARCA4</text>
<text x="87.6" y="383.11">POU2AF1</text>
<text x="87.6" y="391.46">MYC</text>
<text x="87.6" y="399.81">HIST1H2AM</text>
<text x="87.6" y="408.16">CCND3</text>
<text x="87.6" y="416.50">BTG1</text>
<text x="87.6" y="424.86">PIM1</text>
<text x="87.6" y="433.21">LTB</text>
<text x="87.6" y="441.56">BTK</text>
<text x="87.6" y="449.91">TMEM30A</text>
<text x="87.6" y="458.25">PTEN</text>
<text x="87.6" y="466.61">PDS5B</text>
<text x="87.6" y="474.96">HIST1H3B</text>
<text x="87.6" y="483.31">CD79A</text>
<text x="87.6" y="491.66">XBP1</text>
<text x="87.6" y="500.00">PRKCB</text>
<text x="87.6" y="508.36">POU2F2<tspan dy="-1">_</tspan><tspan dy="1">239</tspan></text>
<text x="87.6" y="516.71">P2RY8</text>
<text x="87.6" y="525.05">NOTCH2</text>
<text x="87.6" y="533.41">MYD88<tspan dy="-1">_</tspan><tspan dy="1">noncan</tspan></text>
<text x="87.6" y="541.75">MAP2K1</text>
<text x="87.6" y="550.11">KLHL6</text>
<text x="87.6" y="558.46">HIST1H3G</text>
<text x="87.6" y="566.80">HIST1H2BD</text>
<text x="87.6" y="575.16">HIST1H2AG</text>
<text x="87.6" y="583.50">HIST1H1D</text>
<text x="87.6" y="591.86">HIST1H1C</text>
<text x="87.6" y="600.21">HIST1H1B</text>
<text x="87.6" y="608.55">CD83</text>
<text x="87.6" y="616.91">BRAF</text>
<text x="87.6" y="625.25">BCR</text>
<text x="87.6" y="633.61">BCL10</text>
<text x="87.6" y="641.96">ATM</text>
<text x="87.6" y="650.30">RB1</text>
<text x="87.6" y="658.66">TET2</text>
<text x="87.6" y="667.00">RASA2</text>
<text x="87.6" y="675.35">PIK3R1</text>
<text x="87.6" y="683.71">NFKBIA</text>
<text x="87.6" y="692.05">MTOR</text>
<text x="87.6" y="700.41">HIST1H2BC</text>
<text x="87.6" y="708.75">FBXO11</text>
<text x="87.6" y="717.10">FAT4</text>
<text x="87.6" y="725.46">EZH2<tspan dy="-1">_</tspan><tspan dy="1">noncan</tspan></text>
<text x="87.6" y="733.80">CDKN2C</text>
<text x="87.6" y="742.16">BCL6</text>
<text x="87.6" y="750.50">CDKN2A</text>
<text x="87.6" y="758.85" textLength="36.4" lengthAdjust="spacingAndGlyphs">REL<tspan dy="-1">_</tspan><tspan dy="1">amp</tspan></text>
<text x="87.6" y="767.21">BCL11A<tspan dy="-1">_</tspan><tspan dy="1">amp</tspan></text>
<text x="87.6" y="775.55">IKZF1</text>
<text x="87.6" y="783.91">HIST1H2BG</text>
<text x="87.6" y="792.25">HIST1H2AC</text>
</g>
<g font-size="8.7" text-anchor="middle">
<text x="105.12" y="808.3">1</text>
<text x="119.15" y="808.3">2</text>
<text x="133.19" y="808.3">3</text>
<text x="147.23" y="808.3">4</text>
<text x="161.26" y="808.3">5</text>
<text x="175.30" y="808.3">6</text>
<text x="189.33" y="808.3">7</text>
<text x="203.37" y="808.3">8</text>
<text x="217.41" y="808.3">9</text>
<text x="231.44" y="808.3">10</text>
<text x="245.48" y="808.3">11</text>
<text x="259.51" y="808.3">12</text>
<text x="273.55" y="808.3">13</text>
<text x="287.59" y="808.3">14</text>
<text x="301.62" y="808.3">15</text>
<text x="315.66" y="808.3">16</text>
<text x="329.69" y="808.3">17</text>
<text x="343.73" y="808.3">18</text>
<text x="357.77" y="808.3">19</text>
<text x="371.80" y="808.3">20</text>
<text x="385.84" y="808.3">21</text>
<text x="399.87" y="808.3">22</text>
<text x="413.91" y="808.3">23</text>
<text x="427.95" y="808.3">24</text>
<text x="441.98" y="808.3">25</text>
<text x="456.02" y="808.3">26</text>
</g>
<rect x="479.2" y="49.7" width="8.8" height="10.5" fill="#d95260"/>
<rect x="479.2" y="60.2" width="8.8" height="10.5" fill="#67c673"/>
<rect x="479.2" y="70.7" width="8.8" height="10.5" fill="#4179a9"/>
<g font-size="8.3"><text x="491.8" y="58.8">FL</text><text x="491.8" y="69.2" textLength="28.6" lengthAdjust="spacing">DLBCL</text><text x="491.8" y="79.7">Shared</text></g>
<text x="0" y="0" font-size="12.6" text-anchor="middle" style="stroke-width:0.5px" transform="translate(280.5 826.7) scale(0.715 1)">Patient number</text>
<text x="0" y="0" font-size="12" text-anchor="middle" font-weight="bold" transform="translate(11.4 463) rotate(-90) scale(0.66 1)">Gene</text>
</svg></body></html>
